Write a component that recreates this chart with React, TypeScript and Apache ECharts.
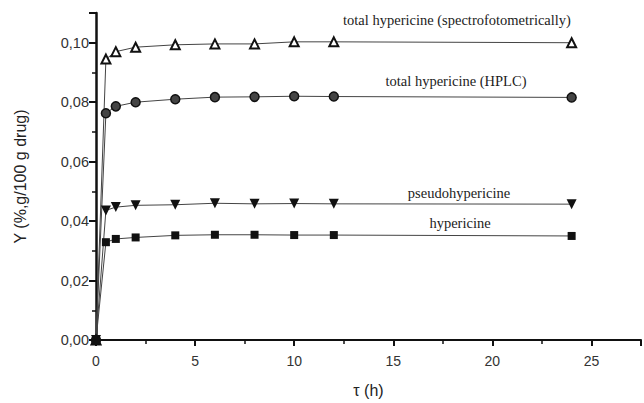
import React, { useEffect, useRef } from "react";
import * as echarts from "echarts";

const times = [0, 0.5, 1, 2, 4, 6, 8, 10, 12, 24];
const spectro = [0, 0.0945, 0.097, 0.0985, 0.0993, 0.0996, 0.0996, 0.1003, 0.1003, 0.1];
const hplc = [0, 0.0763, 0.0786, 0.08, 0.081, 0.0817, 0.0818, 0.082, 0.0819, 0.0816];
const pseudo = [0, 0.0436, 0.0447, 0.0453, 0.0455, 0.046, 0.0458, 0.0459, 0.0458, 0.0457];
const hyper = [0, 0.0329, 0.034, 0.0345, 0.0352, 0.0354, 0.0354, 0.0353, 0.0353, 0.035];

const seriesNames = [
  "total hypericine (spectrofotometrically)",
  "total hypericine (HPLC)",
  "pseudohypericine",
  "hypericine",
];

const pairs = (ys: number[]) => times.map((t, i) => [t, ys[i]]);

export default function App() {
  const ref = useRef<HTMLDivElement>(null);
  useEffect(() => {
    const chart = echarts.init(ref.current!, null, { renderer: "svg" });
    const lineStyle = { color: "#444", width: 1 };
    const sans = "Liberation Sans";
    const serif = "Liberation Serif";
    const labelFont = `14.5px "${serif}"`;
    chart.setOption({
      animation: false,
      backgroundColor: "#fff",
      grid: { left: 96, top: 13, right: 0, bottom: 63 },
      xAxis: {
        type: "value",
        min: 0,
        max: 27.5,
        interval: 5,
        name: "τ (h)",
        nameLocation: "middle",
        nameGap: 42,
        nameTextStyle: { fontFamily: sans, fontSize: 16, color: "#222" },
        axisLine: { show: true, onZero: false, lineStyle: { color: "#111", width: 2 } },
        axisTick: { show: true, length: 6, lineStyle: { color: "#111", width: 2 } },
        minorTick: { show: true, splitNumber: 2, length: 4, lineStyle: { color: "#111", width: 1.5 } },
        axisLabel: {
          fontFamily: sans,
          fontSize: 14,
          color: "#333",
          margin: 14,
          formatter: (v: number) => (v > 25 ? "" : String(v)),
        },
        splitLine: { show: false },
      },
      yAxis: {
        type: "value",
        min: 0,
        max: 0.11,
        interval: 0.02,
        name: "Y (%,g/100 g drug)",
        nameLocation: "middle",
        nameGap: 68,
        nameTextStyle: { fontFamily: sans, fontSize: 16, color: "#222" },
        axisLine: { show: true, onZero: false, lineStyle: { color: "#111", width: 2.5 } },
        axisTick: { show: true, length: 7, lineStyle: { color: "#111", width: 2 } },
        minorTick: { show: true, splitNumber: 2, length: 4, lineStyle: { color: "#111", width: 1.5 } },
        axisLabel: {
          fontFamily: sans,
          fontSize: 14.5,
          color: "#333",
          margin: 7,
          formatter: (v: number) => (v > 0.105 ? "" : v.toFixed(2).replace(".", ",")),
        },
        splitLine: { show: false },
      },
      series: [
        {
          name: seriesNames[0],
          type: "line",
          data: pairs(spectro),
          symbol: "triangle",
          symbolSize: 9,
          itemStyle: { color: "#fff", borderColor: "#111", borderWidth: 2 },
          lineStyle,
        },
        {
          name: seriesNames[1],
          type: "line",
          data: pairs(hplc),
          symbol: "circle",
          symbolSize: 9,
          itemStyle: { color: "#444", borderColor: "#111", borderWidth: 1.5 },
          lineStyle,
        },
        {
          name: seriesNames[2],
          type: "line",
          data: pairs(pseudo),
          symbol: "triangle",
          symbolRotate: 180,
          symbolSize: 10,
          itemStyle: { color: "#111", borderColor: "#111", borderWidth: 0 },
          lineStyle,
        },
        {
          name: seriesNames[3],
          type: "line",
          data: pairs(hyper),
          symbol: "rect",
          symbolSize: 8,
          itemStyle: { color: "#111", borderColor: "#111", borderWidth: 0 },
          lineStyle,
        },
      ],
      graphic: [
        { type: "text", x: 457, y: 20, style: { text: seriesNames[0], font: labelFont, fill: "#222", align: "center", verticalAlign: "middle" } },
        { type: "text", x: 456, y: 81, style: { text: seriesNames[1], font: labelFont, fill: "#222", align: "center", verticalAlign: "middle" } },
        { type: "text", x: 459, y: 193, style: { text: seriesNames[2], font: labelFont, fill: "#222", align: "center", verticalAlign: "middle" } },
        { type: "text", x: 460, y: 223, style: { text: seriesNames[3], font: labelFont, fill: "#222", align: "center", verticalAlign: "middle" } },
      ],
    });
    return () => chart.dispose();
  }, []);
  return <div ref={ref} style={{ width: 644, height: 403, position: "fixed", left: 0, top: 0 }} />;
}
